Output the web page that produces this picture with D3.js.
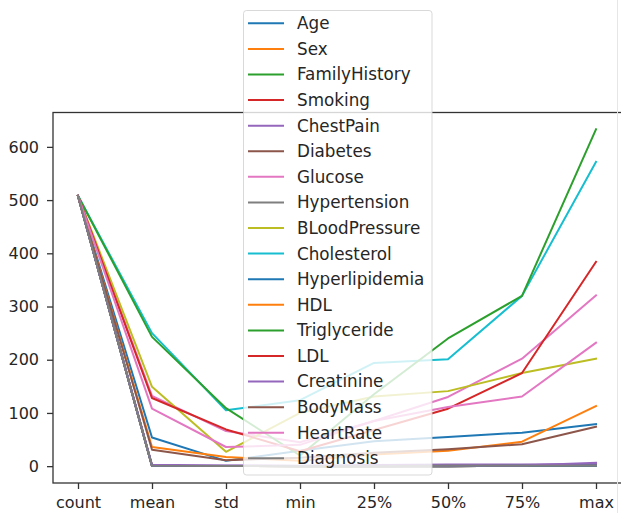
<!DOCTYPE html>
<html>
<head>
<meta charset="utf-8">
<script src="https://cdn.jsdelivr.net/npm/d3@7"></script>
<style>
  html, body { margin: 0; padding: 0; background: #fff; }
  svg { display: block; }
  text { font-family: "DejaVu Sans", sans-serif; fill: #262626; }
</style>
</head>
<body>
<svg id="chart" width="621" height="513"></svg>
<script>
// Summary statistics (describe) per column
const stats = ["count", "mean", "std", "min", "25%", "50%", "75%", "max"];
const yTicks = [0, 100, 200, 300, 400, 500, 600];

const Age            = [508, 54, 10, 29, 47, 55, 63, 79];
const Sex            = [508, 0.68, 0.47, 0, 0, 1, 1, 1];
const FamilyHistory  = [508, 0.5, 0.5, 0, 0, 0, 1, 1];
const Smoking        = [508, 0.45, 0.5, 0, 0, 0, 1, 1];
const ChestPain      = [508, 2.5, 1.1, 1, 2, 3, 3, 4];
const Diabetes       = [508, 0.3, 0.46, 0, 0, 0, 1, 1];
const Glucose        = [508, 132, 66, 45, 85, 130, 202, 321];
const Hypertension   = [508, 0.5, 0.5, 0, 0, 1, 1, 1];
const BLoodPressure  = [508, 149, 27, 100, 131, 141, 175, 202];
const Cholesterol    = [508, 250, 105, 124, 194, 201, 320, 572];
const Hyperlipidemia = [508, 0.4, 0.49, 0, 0, 0, 1, 1];
const HDL            = [508, 36, 17, 10, 22, 29, 46, 113];
const Triglyceride   = [508, 243, 109, 20, 135, 240, 320, 633];
const LDL            = [508, 128, 69, 28, 68, 108, 175, 384];
const Creatinine     = [508, 1.2, 0.8, 0.5, 0.8, 1.0, 1.3, 6.5];
const BodyMass       = [508, 31, 11, 16, 25, 32, 41, 74];
const HeartRate      = [508, 108, 36, 40, 85, 111, 131, 232];
const Diagnosis      = [508, 0.55, 0.5, 0, 0, 1, 1, 1];

const seriesNames = ["Age", "Sex", "FamilyHistory", "Smoking", "ChestPain", "Diabetes",
  "Glucose", "Hypertension", "BLoodPressure", "Cholesterol", "Hyperlipidemia", "HDL",
  "Triglyceride", "LDL", "Creatinine", "BodyMass", "HeartRate", "Diagnosis"];
const seriesValues = [Age, Sex, FamilyHistory, Smoking, ChestPain, Diabetes,
  Glucose, Hypertension, BLoodPressure, Cholesterol, Hyperlipidemia, HDL,
  Triglyceride, LDL, Creatinine, BodyMass, HeartRate, Diagnosis];

const palette = ["#1f77b4", "#ff7f0e", "#2ca02c", "#d62728", "#9467bd",
  "#8c564b", "#e377c2", "#7f7f7f", "#bcbd22", "#17becf"];

const svg = d3.select("#chart");

// Axes box
const plot = { left: 53, right: 623, top: 112.5, bottom: 483 };

const x = d3.scalePoint().domain(stats).range([78, 596]);
const yMin = -31.65, yMax = 664.6;
const y = d3.scaleLinear().domain([yMin, yMax]).range([plot.bottom, plot.top]);

const color = d3.scaleOrdinal().domain(seriesNames).range(palette);

const series = seriesNames.map((name, i) => ({
  name,
  points: stats.map((s, j) => ({ stat: s, value: seriesValues[i][j] }))
}));

// Lines
const line = d3.line().x(d => x(d.stat)).y(d => y(d.value));
svg.append("g").selectAll("path")
  .data(series)
  .join("path")
  .attr("d", d => line(d.points))
  .attr("fill", "none")
  .attr("stroke", d => color(d.name))
  .attr("stroke-width", 2)
  .attr("stroke-linejoin", "round")
  .attr("stroke-linecap", "square");

// Spines
svg.append("rect")
  .attr("x", plot.left).attr("y", plot.top)
  .attr("width", plot.right - plot.left).attr("height", plot.bottom - plot.top)
  .attr("fill", "none").attr("stroke", "#333").attr("stroke-width", 1.3);

// Thin frame edge on the right
svg.append("line")
  .attr("x1", 617.5).attr("x2", 617.5).attr("y1", 0).attr("y2", 513)
  .attr("stroke", "#e6e6e6").attr("stroke-width", 1);

// X axis
const xAxis = svg.append("g")
  .attr("transform", `translate(0,${plot.bottom})`)
  .call(d3.axisBottom(x).tickSize(6).tickPadding(8));
xAxis.select(".domain").remove();
xAxis.selectAll("line").attr("stroke", "#333").attr("stroke-width", 1.3);
xAxis.selectAll("text").attr("font-size", 16).attr("fill", "#262626")
  .style("font-family", "DejaVu Sans, sans-serif");

// Y axis
const yAxis = svg.append("g")
  .attr("transform", `translate(${plot.left},0)`)
  .call(d3.axisLeft(y).tickValues(yTicks).tickSize(6).tickPadding(8));
yAxis.select(".domain").remove();
yAxis.selectAll("line").attr("stroke", "#333").attr("stroke-width", 1.3);
yAxis.selectAll("text").attr("font-size", 16).attr("fill", "#262626")
  .style("font-family", "DejaVu Sans, sans-serif");

// Legend
const legend = svg.append("g");
const lg = { x: 243.5, y: 10.5, w: 188.5, h: 464.5, row0: 23.3, step: 25.59 };
legend.append("rect")
  .attr("x", lg.x).attr("y", lg.y).attr("width", lg.w).attr("height", lg.h)
  .attr("rx", 3).attr("ry", 3)
  .attr("fill", "#fff").attr("fill-opacity", 0.8)
  .attr("stroke", "#d0d0d0").attr("stroke-opacity", 0.8).attr("stroke-width", 1);

const item = legend.selectAll("g.item")
  .data(seriesNames)
  .join("g")
  .attr("class", "item")
  .attr("transform", (d, i) => `translate(0,${lg.row0 + i * lg.step})`);
item.append("line")
  .attr("x1", 248).attr("x2", 284).attr("y1", 0).attr("y2", 0)
  .attr("stroke", d => color(d)).attr("stroke-width", 2);
item.append("text")
  .attr("x", 297).attr("y", 0).attr("dy", "0.35em")
  .attr("font-size", 16.8)
  .text(d => d);
</script>
</body>
</html>
